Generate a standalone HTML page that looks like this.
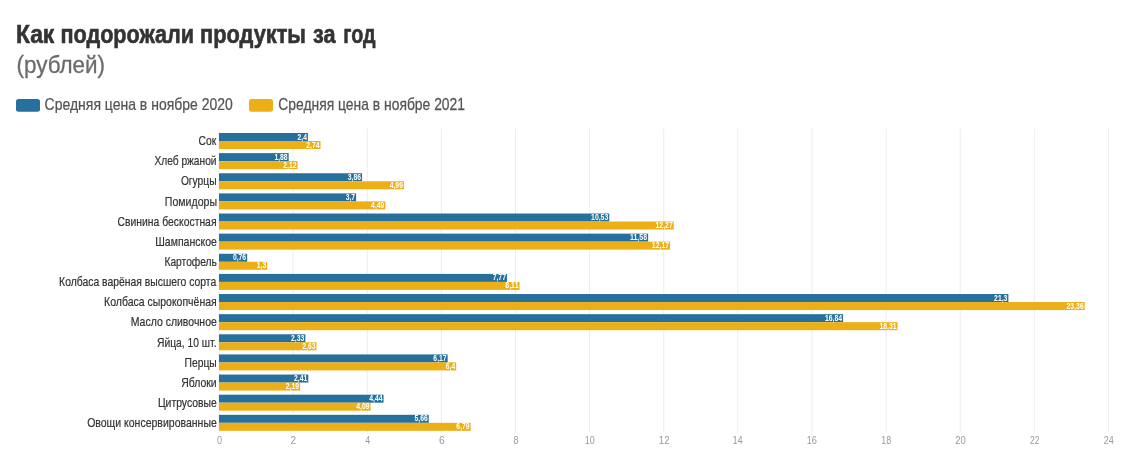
<!DOCTYPE html>
<html lang="ru"><head><meta charset="utf-8"><title>Как подорожали продукты за год</title>
<style>
html,body{margin:0;padding:0;background:#fff;}
body{width:1123px;height:462px;overflow:hidden;font-family:"Liberation Sans",sans-serif;}
svg{display:block;position:absolute;left:0;top:0;}
text{font-family:"Liberation Sans",sans-serif;}
.t-title{font-size:25px;font-weight:bold;fill:#333;stroke:#333;stroke-width:0.6px;}
.t-sub{font-size:24.5px;fill:#6b6b6b;stroke:#6b6b6b;stroke-width:0.3px;}
.t-leg{font-size:16.2px;fill:#555;stroke:#555;stroke-width:0.25px;}
.t-cat{font-size:12.4px;fill:#333;stroke:#333;stroke-width:0.2px;}
.t-ax{font-size:11px;fill:#9a9a9a;}
.t-val{font-size:8.3px;font-weight:bold;fill:#fff;}
</style></head>
<body>
<svg width="1123" height="462" viewBox="0 0 1123 462">
<rect x="0" y="0" width="1123" height="462" fill="#fff"/>
<rect x="16" y="99" width="24" height="12.7" rx="2.5" fill="#25709d"/>
<rect x="249" y="99" width="24" height="12.7" rx="2.5" fill="#ecaf18"/>
<g stroke="#ededed" stroke-width="1">
<line x1="219.00" y1="128.5" x2="219.00" y2="432.5"/>
<line x1="293.12" y1="128.5" x2="293.12" y2="432.5"/>
<line x1="367.24" y1="128.5" x2="367.24" y2="432.5"/>
<line x1="441.36" y1="128.5" x2="441.36" y2="432.5"/>
<line x1="515.48" y1="128.5" x2="515.48" y2="432.5"/>
<line x1="589.60" y1="128.5" x2="589.60" y2="432.5"/>
<line x1="663.72" y1="128.5" x2="663.72" y2="432.5"/>
<line x1="737.84" y1="128.5" x2="737.84" y2="432.5"/>
<line x1="811.96" y1="128.5" x2="811.96" y2="432.5"/>
<line x1="886.08" y1="128.5" x2="886.08" y2="432.5"/>
<line x1="960.20" y1="128.5" x2="960.20" y2="432.5"/>
<line x1="1034.32" y1="128.5" x2="1034.32" y2="432.5"/>
<line x1="1108.44" y1="128.5" x2="1108.44" y2="432.5"/>
</g>
<g>
<rect x="219.00" y="133.00" width="88.94" height="8" fill="#25709d"/><rect x="219.00" y="141.00" width="101.54" height="8" fill="#ecaf18"/>
<rect x="219.00" y="153.13" width="69.67" height="8" fill="#25709d"/><rect x="219.00" y="161.13" width="78.57" height="8" fill="#ecaf18"/>
<rect x="219.00" y="173.26" width="143.05" height="8" fill="#25709d"/><rect x="219.00" y="181.26" width="184.93" height="8" fill="#ecaf18"/>
<rect x="219.00" y="193.39" width="137.12" height="8" fill="#25709d"/><rect x="219.00" y="201.39" width="166.40" height="8" fill="#ecaf18"/>
<rect x="219.00" y="213.52" width="390.24" height="8" fill="#25709d"/><rect x="219.00" y="221.52" width="454.73" height="8" fill="#ecaf18"/>
<rect x="219.00" y="233.65" width="429.15" height="8" fill="#25709d"/><rect x="219.00" y="241.65" width="451.02" height="8" fill="#ecaf18"/>
<rect x="219.00" y="253.78" width="28.17" height="8" fill="#25709d"/><rect x="219.00" y="261.78" width="48.18" height="8" fill="#ecaf18"/>
<rect x="219.00" y="273.91" width="287.96" height="8" fill="#25709d"/><rect x="219.00" y="281.91" width="300.56" height="8" fill="#ecaf18"/>
<rect x="219.00" y="294.04" width="789.38" height="8" fill="#25709d"/><rect x="219.00" y="302.04" width="865.72" height="8" fill="#ecaf18"/>
<rect x="219.00" y="314.17" width="624.09" height="8" fill="#25709d"/><rect x="219.00" y="322.17" width="678.57" height="8" fill="#ecaf18"/>
<rect x="219.00" y="334.30" width="86.35" height="8" fill="#25709d"/><rect x="219.00" y="342.30" width="97.47" height="8" fill="#ecaf18"/>
<rect x="219.00" y="354.43" width="228.66" height="8" fill="#25709d"/><rect x="219.00" y="362.43" width="237.18" height="8" fill="#ecaf18"/>
<rect x="219.00" y="374.56" width="89.31" height="8" fill="#25709d"/><rect x="219.00" y="382.56" width="81.16" height="8" fill="#ecaf18"/>
<rect x="219.00" y="394.69" width="164.55" height="8" fill="#25709d"/><rect x="219.00" y="402.69" width="151.58" height="8" fill="#ecaf18"/>
<rect x="219.00" y="414.82" width="209.76" height="8" fill="#25709d"/><rect x="219.00" y="422.82" width="251.64" height="8" fill="#ecaf18"/>
</g>
<text id="title" class="t-title" y="42.6"><tspan x="15.96" textLength="38.34" lengthAdjust="spacingAndGlyphs">Как</tspan> <tspan x="60.48" textLength="133.54" lengthAdjust="spacingAndGlyphs">подорожали</tspan> <tspan x="199.98" textLength="106.04" lengthAdjust="spacingAndGlyphs">продукты</tspan> <tspan x="313.01" textLength="22.51" lengthAdjust="spacingAndGlyphs">за</tspan> <tspan x="343.29" textLength="32.27" lengthAdjust="spacingAndGlyphs">год</tspan></text>
<text id="sub" class="t-sub" text-anchor="start" transform="translate(16.57 72.70) scale(0.9155 1)">(рублей)</text>
<text id="lg1" class="t-leg" text-anchor="start" transform="translate(44.61 110.20) scale(0.8634 1)">Средняя цена в ноябре 2020</text>
<text id="lg2" class="t-leg" text-anchor="start" transform="translate(278.30 110.20) scale(0.8565 1)">Средняя цена в ноябре 2021</text>
<text id="c0" class="t-cat" text-anchor="end" transform="translate(216.29 145.20) scale(0.8338 1)">Сок</text>
<text id="c1" class="t-cat" text-anchor="end" transform="translate(216.54 165.33) scale(0.8231 1)">Хлеб ржаной</text>
<text id="c2" class="t-cat" text-anchor="end" transform="translate(216.53 185.46) scale(0.8269 1)">Огурцы</text>
<text id="c3" class="t-cat" text-anchor="end" transform="translate(216.98 205.59) scale(0.8525 1)">Помидоры</text>
<text id="c4" class="t-cat" text-anchor="end" transform="translate(216.50 225.72) scale(0.8375 1)">Свинина бескостная</text>
<text id="c5" class="t-cat" text-anchor="end" transform="translate(216.80 245.85) scale(0.8467 1)">Шампанское</text>
<text id="c6" class="t-cat" text-anchor="end" transform="translate(216.87 265.98) scale(0.8249 1)">Картофель</text>
<text id="c7" class="t-cat" text-anchor="end" transform="translate(216.19 286.11) scale(0.8376 1)">Колбаса варёная высшего сорта</text>
<text id="c8" class="t-cat" text-anchor="end" transform="translate(216.69 306.24) scale(0.8465 1)">Колбаса сырокопчёная</text>
<text id="c9" class="t-cat" text-anchor="end" transform="translate(216.80 326.37) scale(0.8464 1)">Масло сливочное</text>
<text id="c10" class="t-cat" text-anchor="end" transform="translate(216.50 346.50) scale(0.8306 1)">Яйца, 10 шт.</text>
<text id="c11" class="t-cat" text-anchor="end" transform="translate(216.67 366.63) scale(0.8301 1)">Перцы</text>
<text id="c12" class="t-cat" text-anchor="end" transform="translate(216.58 386.76) scale(0.8418 1)">Яблоки</text>
<text id="c13" class="t-cat" text-anchor="end" transform="translate(216.83 406.89) scale(0.8403 1)">Цитрусовые</text>
<text id="c14" class="t-cat" text-anchor="end" transform="translate(216.80 427.02) scale(0.8483 1)">Овощи консервированные</text>
<text id="a0" class="t-ax" text-anchor="middle" transform="translate(219.59 443.80) scale(0.8324 1)">0</text>
<text id="a1" class="t-ax" text-anchor="middle" transform="translate(293.39 443.80) scale(0.9051 1)">2</text>
<text id="a2" class="t-ax" text-anchor="middle" transform="translate(367.68 443.80) scale(0.8099 1)">4</text>
<text id="a3" class="t-ax" text-anchor="middle" transform="translate(441.83 443.80) scale(0.9396 1)">6</text>
<text id="a4" class="t-ax" text-anchor="middle" transform="translate(515.90 443.80) scale(0.8030 1)">8</text>
<text id="a5" class="t-ax" text-anchor="middle" transform="translate(589.78 443.80) scale(0.8159 1)">10</text>
<text id="a6" class="t-ax" text-anchor="middle" transform="translate(664.13 443.80) scale(0.8679 1)">12</text>
<text id="a7" class="t-ax" text-anchor="middle" transform="translate(737.55 443.80) scale(0.8449 1)">14</text>
<text id="a8" class="t-ax" text-anchor="middle" transform="translate(811.85 443.80) scale(0.8423 1)">16</text>
<text id="a9" class="t-ax" text-anchor="middle" transform="translate(886.24 443.80) scale(0.8071 1)">18</text>
<text id="a10" class="t-ax" text-anchor="middle" transform="translate(960.50 443.80) scale(0.8563 1)">20</text>
<text id="a11" class="t-ax" text-anchor="middle" transform="translate(1034.64 443.80) scale(0.7763 1)">22</text>
<text id="a12" class="t-ax" text-anchor="middle" transform="translate(1108.70 443.80) scale(0.8204 1)">24</text>
<text id="v0_0" class="t-val" text-anchor="end" transform="translate(306.94 139.55) scale(0.8141 1)">2,4</text>
<text id="v0_1" class="t-val" text-anchor="end" transform="translate(319.54 147.55) scale(0.8232 1)">2,74</text>
<text id="v1_0" class="t-val" text-anchor="end" transform="translate(287.67 159.68) scale(0.8232 1)">1,88</text>
<text id="v1_1" class="t-val" text-anchor="end" transform="translate(296.57 167.68) scale(0.8232 1)">2,12</text>
<text id="v2_0" class="t-val" text-anchor="end" transform="translate(361.05 179.81) scale(0.8232 1)">3,86</text>
<text id="v2_1" class="t-val" text-anchor="end" transform="translate(402.93 187.81) scale(0.8232 1)">4,99</text>
<text id="v3_0" class="t-val" text-anchor="end" transform="translate(355.12 199.94) scale(0.8141 1)">3,7</text>
<text id="v3_1" class="t-val" text-anchor="end" transform="translate(384.40 207.94) scale(0.8232 1)">4,49</text>
<text id="v4_0" class="t-val" text-anchor="end" transform="translate(608.24 220.07) scale(0.8283 1)">10,53</text>
<text id="v4_1" class="t-val" text-anchor="end" transform="translate(672.73 228.07) scale(0.8283 1)">12,27</text>
<text id="v5_0" class="t-val" text-anchor="end" transform="translate(647.15 240.20) scale(0.8468 1)">11,58</text>
<text id="v5_1" class="t-val" text-anchor="end" transform="translate(669.02 248.20) scale(0.8283 1)">12,17</text>
<text id="v6_0" class="t-val" text-anchor="end" transform="translate(246.17 260.33) scale(0.8232 1)">0,76</text>
<text id="v6_1" class="t-val" text-anchor="end" transform="translate(266.18 268.33) scale(0.8141 1)">1,3</text>
<text id="v7_0" class="t-val" text-anchor="end" transform="translate(505.96 280.46) scale(0.8232 1)">7,77</text>
<text id="v7_1" class="t-val" text-anchor="end" transform="translate(518.56 288.46) scale(0.8470 1)">8,11</text>
<text id="v8_0" class="t-val" text-anchor="end" transform="translate(1007.38 300.59) scale(0.8232 1)">21,3</text>
<text id="v8_1" class="t-val" text-anchor="end" transform="translate(1083.72 308.59) scale(0.8283 1)">23,36</text>
<text id="v9_0" class="t-val" text-anchor="end" transform="translate(842.09 320.72) scale(0.8283 1)">16,84</text>
<text id="v9_1" class="t-val" text-anchor="end" transform="translate(896.57 328.72) scale(0.8283 1)">18,31</text>
<text id="v10_0" class="t-val" text-anchor="end" transform="translate(304.35 340.85) scale(0.8232 1)">2,33</text>
<text id="v10_1" class="t-val" text-anchor="end" transform="translate(315.47 348.85) scale(0.8232 1)">2,63</text>
<text id="v11_0" class="t-val" text-anchor="end" transform="translate(446.66 360.98) scale(0.8232 1)">6,17</text>
<text id="v11_1" class="t-val" text-anchor="end" transform="translate(455.18 368.98) scale(0.8141 1)">6,4</text>
<text id="v12_0" class="t-val" text-anchor="end" transform="translate(307.31 381.11) scale(0.8232 1)">2,41</text>
<text id="v12_1" class="t-val" text-anchor="end" transform="translate(299.16 389.11) scale(0.8232 1)">2,19</text>
<text id="v13_0" class="t-val" text-anchor="end" transform="translate(382.55 401.24) scale(0.8232 1)">4,44</text>
<text id="v13_1" class="t-val" text-anchor="end" transform="translate(369.58 409.24) scale(0.8232 1)">4,09</text>
<text id="v14_0" class="t-val" text-anchor="end" transform="translate(427.76 421.37) scale(0.8232 1)">5,66</text>
<text id="v14_1" class="t-val" text-anchor="end" transform="translate(469.64 429.37) scale(0.8232 1)">6,79</text>
</svg>
</body></html>
